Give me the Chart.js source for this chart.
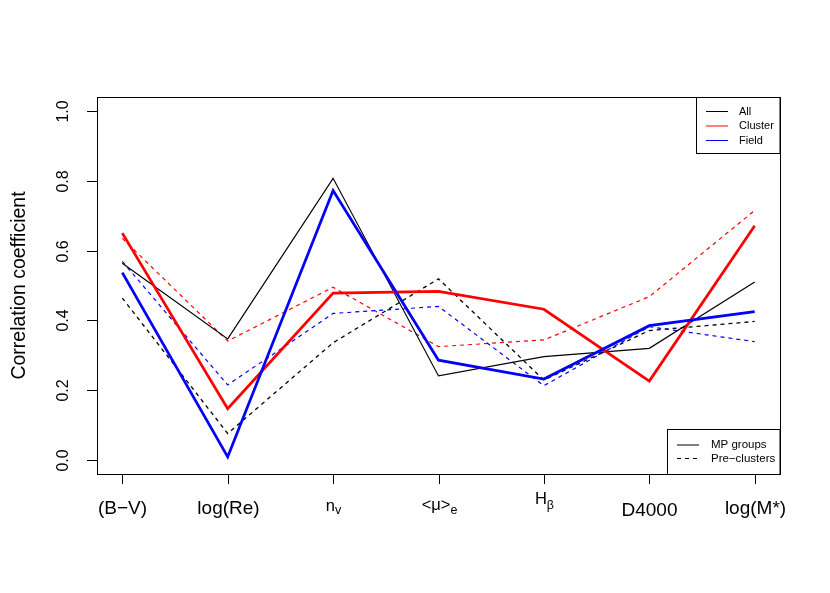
<!DOCTYPE html>
<html>
<head>
<meta charset="utf-8">
<script src="https://cdn.jsdelivr.net/npm/chart.js@4"></script>
<style>
  body { margin: 0; background: #fff; }
  canvas { display: block; }
</style>
</head>
<body>
<canvas id="corrChart" width="830" height="593"></canvas>
<script>
// tick labels: [main text, subscript]
const categories = [['(B\u2212V)', ''], ['log(Re)', ''], ['n', 'v'], ['<\u03bc>', 'e'], ['H', '\u03b2'], ['D4000', ''], ['log(M*)', '']];
const yTicks = [0, 0.2, 0.4, 0.6, 0.8, 1.0];

// MP groups (solid)
const allMP = [0.564, 0.347, 0.807, 0.241, 0.296, 0.320, 0.510];
const clusterMP = [0.650, 0.147, 0.478, 0.483, 0.432, 0.226, 0.671];
const fieldMP = [0.537, 0.009, 0.772, 0.286, 0.232, 0.385, 0.425];
// Pre-clusters (dashed)
const allPre = [0.464, 0.076, 0.336, 0.519, 0.229, 0.371, 0.397];
const clusterPre = [0.635, 0.341, 0.495, 0.325, 0.344, 0.468, 0.715];
const fieldPre = [0.569, 0.215, 0.420, 0.440, 0.213, 0.382, 0.339];

const font = '"Liberation Sans", Arial, Helvetica, sans-serif';

function pts(vals) {
    return vals.map((v, i) => ({ x: i + 1, y: v }));
}

function series(label, vals, color, width, dash) {
    return {
        label: label,
        data: pts(vals),
        borderColor: color,
        borderWidth: width,
        borderDash: dash || [],
        pointRadius: 0,
        tension: 0,
        fill: false
    };
}

// draws box, axes, tick labels and the two legends the R way
const frame = {
    id: 'frame',
    afterDraw(chart) {
        const { ctx, chartArea: a, scales: { x, y } } = chart;
        ctx.save();
        ctx.strokeStyle = '#000';
        ctx.fillStyle = '#000';
        ctx.lineWidth = 1;
        ctx.setLineDash([]);

        ctx.strokeRect(a.left + 0.5, a.top + 0.5, a.right - a.left, a.bottom - a.top);

        // y axis
        ctx.font = '16px ' + font;
        ctx.textAlign = 'center';
        ctx.textBaseline = 'alphabetic';
        yTicks.forEach(v => {
            const py = Math.round(y.getPixelForValue(v)) + 0.5;
            ctx.beginPath();
            ctx.moveTo(a.left, py);
            ctx.lineTo(a.left - 10, py);
            ctx.stroke();
            ctx.save();
            ctx.translate(68, py);
            ctx.rotate(-Math.PI / 2);
            ctx.fillText(v.toFixed(1), 0, 0);
            ctx.restore();
        });

        ctx.save();
        ctx.font = '19.5px ' + font;
        ctx.translate(25, (a.top + a.bottom) / 2);
        ctx.rotate(-Math.PI / 2);
        ctx.fillText('Correlation coefficient', 0, 0);
        ctx.restore();

        // x axis
        categories.forEach((c, i) => {
            const px = Math.round(x.getPixelForValue(i + 1)) + 0.5;
            ctx.beginPath();
            ctx.moveTo(px, a.bottom);
            ctx.lineTo(px, a.bottom + 10);
            ctx.stroke();

            const main = c[0], sub = c[1];
            if (!sub) {
                ctx.font = '19px ' + font;
                ctx.textAlign = 'center';
                ctx.fillText(main, px, main === 'D4000' ? 516 : 514);
            } else {
                let base = 510.5, subBase = 514;
                if (main === 'H') { base = 504; subBase = 508.5; }
                if (main === '<\u03bc>') { base = 510; subBase = 513.5; }
                ctx.font = '16.5px ' + font;
                const w1 = ctx.measureText(main).width;
                ctx.font = '12.5px ' + font;
                const w2 = ctx.measureText(sub).width;
                const x0 = px - (w1 + w2) / 2;
                ctx.textAlign = 'left';
                ctx.font = '16.5px ' + font;
                ctx.fillText(main, x0, base);
                ctx.font = '12.5px ' + font;
                ctx.fillText(sub, x0 + w1, subBase);
            }
        });

        // legend: samples
        ctx.textAlign = 'left';
        ctx.textBaseline = 'middle';
        ctx.fillStyle = '#fff';
        ctx.fillRect(696, 97, 84, 56);
        ctx.strokeRect(696.5, 97.5, 83.5, 56);
        const entries = [['All', '#000'], ['Cluster', '#ff0000'], ['Field', '#0000ff']];
        ctx.font = '11px ' + font;
        entries.forEach((e, i) => {
            const ly = 111.5 + i * 14.5;
            ctx.strokeStyle = e[1];
            ctx.beginPath();
            ctx.moveTo(706, ly);
            ctx.lineTo(728, ly);
            ctx.stroke();
            ctx.fillStyle = '#000';
            ctx.fillText(e[0], 739, ly);
        });

        // legend: line types
        ctx.strokeStyle = '#000';
        ctx.fillStyle = '#fff';
        ctx.fillRect(667, 429, 113, 45);
        ctx.strokeRect(667.5, 429.5, 112.5, 45);
        ctx.font = '11.5px ' + font;
        [['MP groups', []], ['Pre\u2212clusters', [4, 4]]].forEach((e, i) => {
            const ly = 445 + i * 13.5;
            ctx.setLineDash(e[1]);
            ctx.beginPath();
            ctx.moveTo(677, ly);
            ctx.lineTo(699, ly);
            ctx.stroke();
            ctx.setLineDash([]);
            ctx.fillStyle = '#000';
            ctx.fillText(e[0], 711, ly);
        });
        ctx.restore();
    }
};

new Chart(document.getElementById('corrChart').getContext('2d'), {
    type: 'line',
    data: {
        datasets: [
            series('Field MP', fieldMP, '#0000ff', 2.8),
            series('Cluster MP', clusterMP, '#ff0000', 2.8),
            series('All MP', allMP, '#000000', 1.2),
            series('Field Pre', fieldPre, '#0000ff', 1.2, [4, 4]),
            series('Cluster Pre', clusterPre, '#ff0000', 1.2, [4, 4]),
            series('All Pre', allPre, '#000000', 1.3, [4, 4])
        ]
    },
    options: {
        responsive: false,
        animation: false,
        layout: { padding: { left: 97, top: 97, right: 50, bottom: 119 } },
        scales: {
            x: { type: 'linear', min: 0.76, max: 7.24, display: false },
            y: { type: 'linear', min: -0.04, max: 1.04, display: false }
        },
        plugins: {
            legend: { display: false },
            tooltip: { enabled: false }
        }
    },
    plugins: [frame]
});
</script>
</body>
</html>
